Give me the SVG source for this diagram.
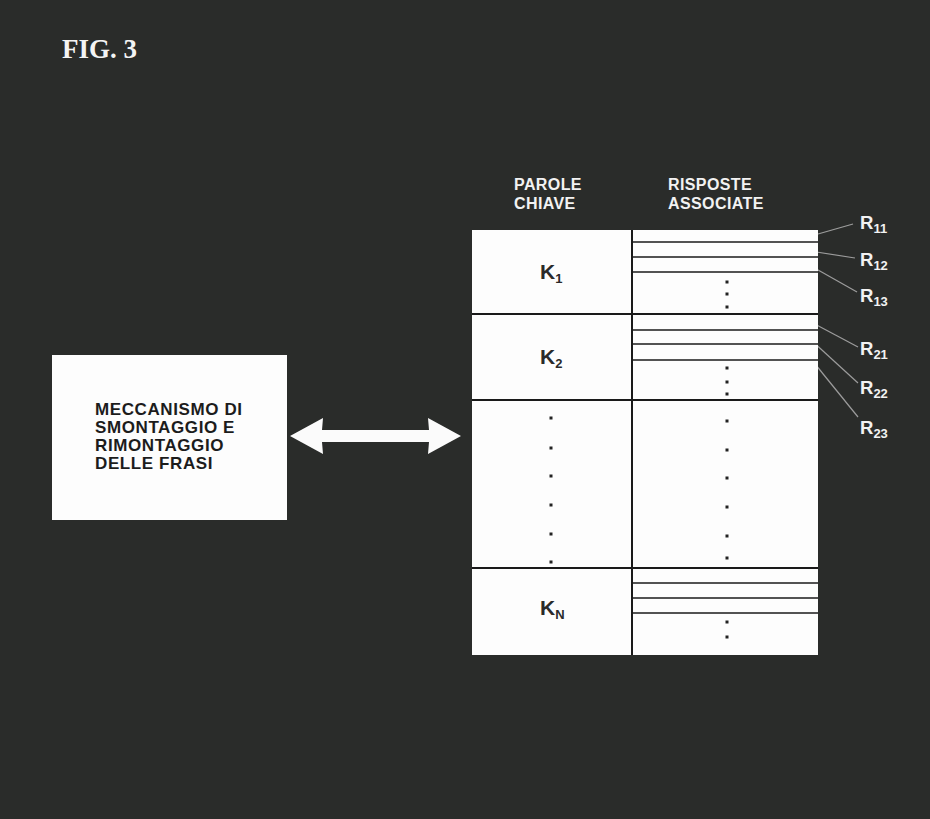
<svg xmlns="http://www.w3.org/2000/svg" width="930" height="819" viewBox="0 0 930 819">
<style>
.bg{fill:#2a2c2a}
.box{fill:#fdfdfd}
.sans{font-family:"Liberation Sans",Arial,sans-serif;font-weight:bold}
.hdr{fill:#f2f2f2;font-size:16px;letter-spacing:0.4px}
.lbl{fill:#1c1c1c;font-size:17px;letter-spacing:0.6px}
.key{fill:#2a2a2a;font-size:21px}
.sub{font-size:13px}
.rl{fill:#f2f2f2;font-size:18.5px}
.thick{stroke:#1a1a1a;stroke-width:2}
.thin{stroke:#1a1a1a;stroke-width:1.6}
.lead{stroke:#9c9c9c;stroke-width:1.2;fill:none}
.dot{fill:#222}
</style>
<rect class="bg" x="0" y="0" width="930" height="819"/>
<text x="62" y="58" font-family="'Liberation Serif','Times New Roman',serif" font-weight="bold" font-size="27" fill="#f4f4f4">FIG. 3</text>

<g id="headers" class="sans hdr">
<text x="514" y="190">PAROLE</text>
<text x="514" y="208.5">CHIAVE</text>
<text x="668" y="190">RISPOSTE</text>
<text x="668" y="208.5">ASSOCIATE</text>
</g>

<g id="mechanism">
<rect class="box" x="52" y="355" width="235" height="165"/>
<text class="sans lbl" x="95"><tspan x="95" y="415">MECCANISMO DI</tspan><tspan x="95" y="433">SMONTAGGIO E</tspan><tspan x="95" y="451">RIMONTAGGIO</tspan><tspan x="95" y="469">DELLE FRASI</tspan></text>
</g>

<g id="connectors">
<polygon fill="#fbfbfb" points="290,436 323,418 322,430 429,430 428,418 461,436 428,454 429,442 322,442 323,454"/>
<line class="lead" x1="853" y1="224" x2="811" y2="236"/>
<line class="lead" x1="855" y1="258" x2="810" y2="251"/>
<line class="lead" x1="857" y1="292" x2="811" y2="266"/>
<line class="lead" x1="858" y1="347" x2="811" y2="322"/>
<line class="lead" x1="858" y1="383" x2="811" y2="340"/>
<line class="lead" x1="858" y1="417" x2="811" y2="359"/>
</g>

<g id="table">
<rect class="box" x="472" y="230" width="346" height="425"/>
<line class="thick" x1="632" y1="230" x2="632" y2="655"/>
<line class="thick" x1="472" y1="314" x2="818" y2="314"/>
<line class="thick" x1="472" y1="400" x2="818" y2="400"/>
<line class="thick" x1="472" y1="568" x2="818" y2="568"/>
<line class="thin" x1="632" y1="242" x2="818" y2="242"/>
<line class="thin" x1="632" y1="257" x2="818" y2="257"/>
<line class="thin" x1="632" y1="272" x2="818" y2="272"/>
<line class="thin" x1="632" y1="330" x2="818" y2="330"/>
<line class="thin" x1="632" y1="344" x2="818" y2="344"/>
<line class="thin" x1="632" y1="360" x2="818" y2="360"/>
<line class="thin" x1="632" y1="583" x2="818" y2="583"/>
<line class="thin" x1="632" y1="598" x2="818" y2="598"/>
<line class="thin" x1="632" y1="613" x2="818" y2="613"/>
</g>

<g id="k1"><text class="sans key" x="540" y="279">K<tspan class="sub" dy="4">1</tspan></text></g>
<g id="k2"><text class="sans key" x="540" y="364">K<tspan class="sub" dy="4">2</tspan></text></g>
<g id="kn"><text class="sans key" x="540" y="615">K<tspan class="sub" dy="4">N</tspan></text></g>

<g id="dots">
<rect class="dot" x="725.5" y="280.5" width="3" height="3"/>
<rect class="dot" x="725.5" y="292.5" width="3" height="3"/>
<rect class="dot" x="725.5" y="305.5" width="3" height="3"/>
<rect class="dot" x="725.5" y="366.5" width="3" height="3"/>
<rect class="dot" x="725.5" y="380.5" width="3" height="3"/>
<rect class="dot" x="725.5" y="392.5" width="3" height="3"/>
<rect class="dot" x="725.5" y="419.5" width="3" height="3"/>
<rect class="dot" x="725.5" y="448.5" width="3" height="3"/>
<rect class="dot" x="725.5" y="476.5" width="3" height="3"/>
<rect class="dot" x="725.5" y="505.5" width="3" height="3"/>
<rect class="dot" x="725.5" y="534.5" width="3" height="3"/>
<rect class="dot" x="725.5" y="556.5" width="3" height="3"/>
<rect class="dot" x="725.5" y="620.5" width="3" height="3"/>
<rect class="dot" x="725.5" y="635.5" width="3" height="3"/>
<rect class="dot" x="549.5" y="416.5" width="3" height="3"/>
<rect class="dot" x="549.5" y="446.5" width="3" height="3"/>
<rect class="dot" x="549.5" y="474.5" width="3" height="3"/>
<rect class="dot" x="549.5" y="503.5" width="3" height="3"/>
<rect class="dot" x="549.5" y="532.5" width="3" height="3"/>
<rect class="dot" x="549.5" y="560.5" width="3" height="3"/>
</g>

<g id="rlabels" class="sans rl">
<text x="860" y="229">R<tspan class="sub" dy="4">11</tspan></text>
<text x="860" y="266">R<tspan class="sub" dy="4">12</tspan></text>
<text x="860" y="302">R<tspan class="sub" dy="4">13</tspan></text>
<text x="860" y="355">R<tspan class="sub" dy="4">21</tspan></text>
<text x="860" y="394">R<tspan class="sub" dy="4">22</tspan></text>
<text x="860" y="434">R<tspan class="sub" dy="4">23</tspan></text>
</g>
</svg>
